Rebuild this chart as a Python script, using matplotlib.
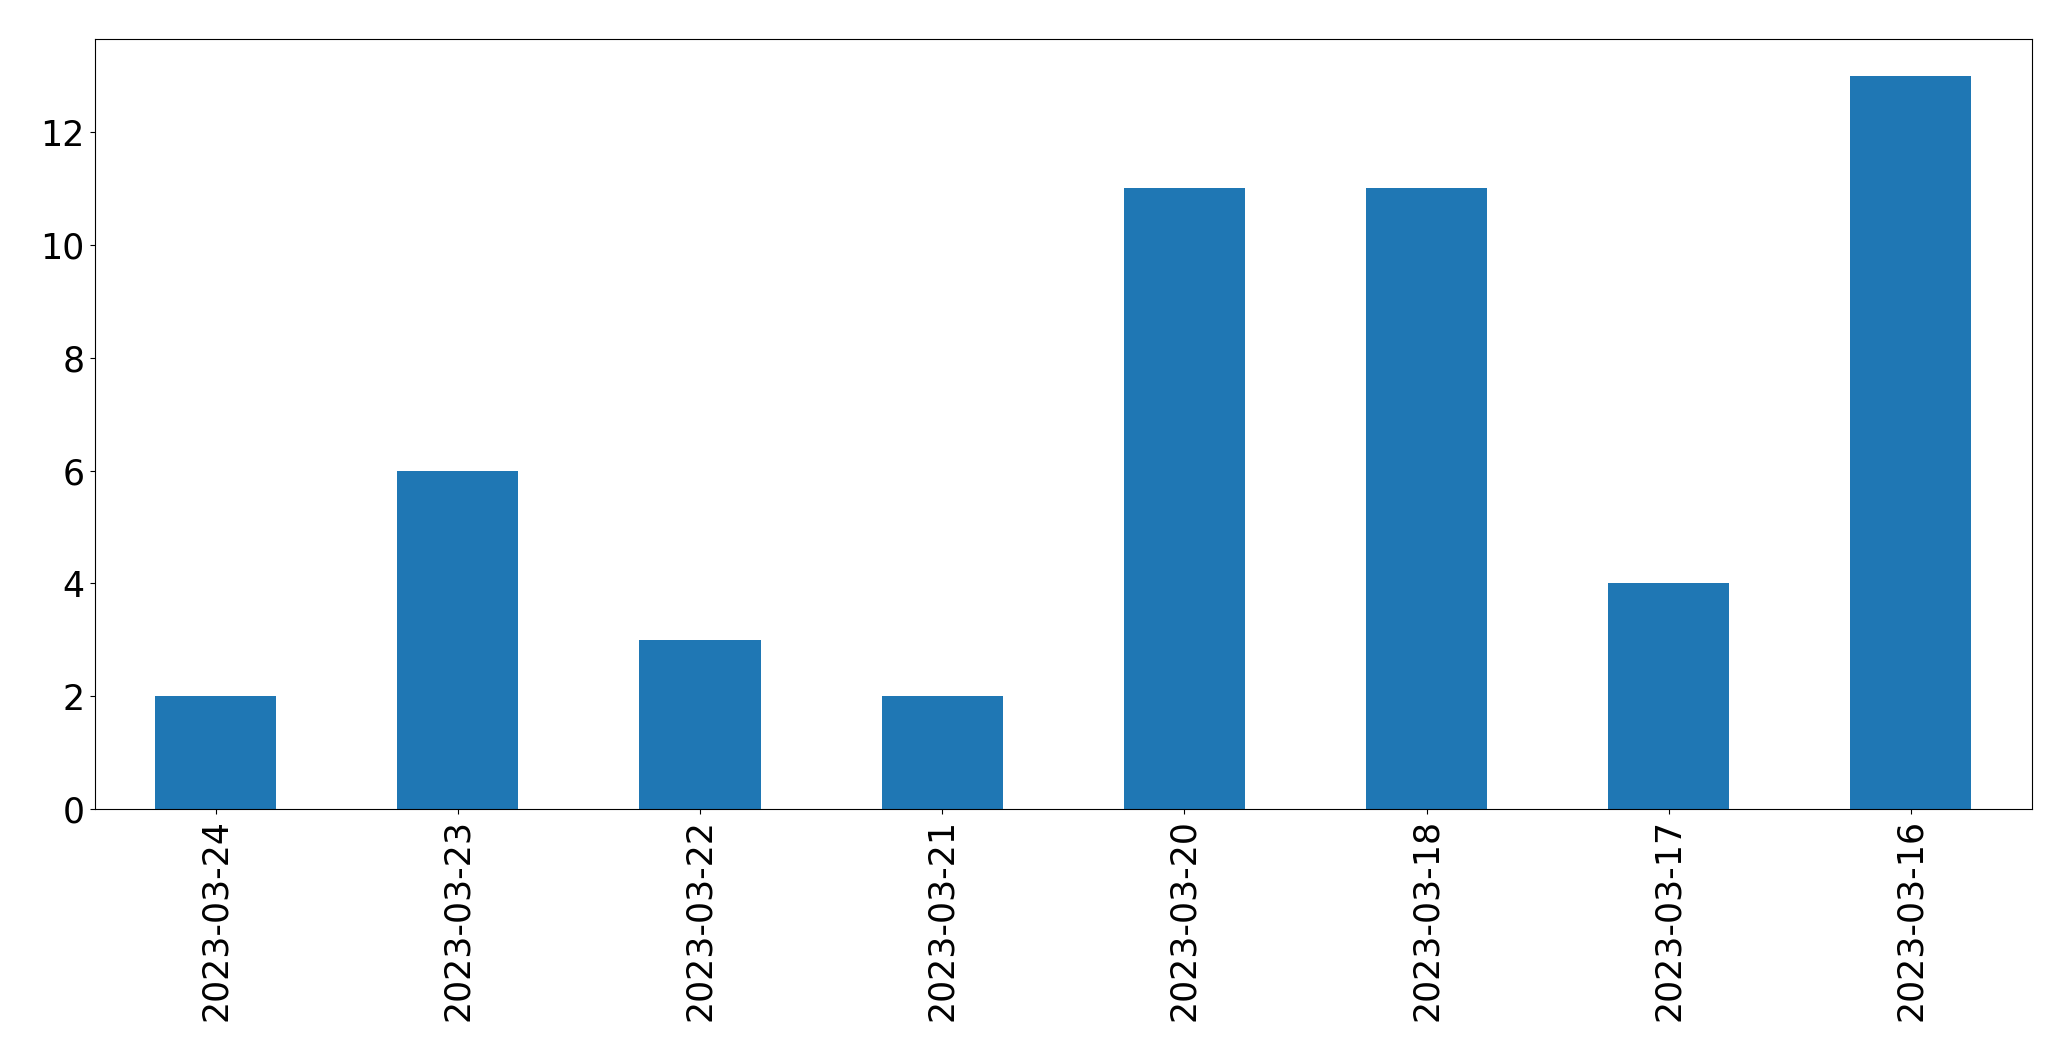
import matplotlib
matplotlib.use("Agg")
import matplotlib.pyplot as plt

dates = ["2023-03-24", "2023-03-23", "2023-03-22", "2023-03-21",
         "2023-03-20", "2023-03-18", "2023-03-17", "2023-03-16"]
counts = [2, 6, 3, 2, 11, 11, 4, 13]

fig = plt.figure(figsize=(20.71, 10.61), dpi=100)
ax = fig.add_axes([94.5 / 2071, 1 - 809 / 1061, (2032 - 94.5) / 2071, (809 - 39) / 1061])
x = list(range(len(dates)))
ax.bar(x, counts, width=0.5, color="#1f77b4")
ax.set_xlim(-0.5, len(dates) - 0.5)
ax.set_ylim(0, max(counts) * 1.05)
ax.set_xticks(x)
ax.set_xticklabels(dates, rotation=90)
ax.set_yticks([0, 2, 4, 6, 8, 10, 12])
ax.tick_params(labelsize=25)
fig.savefig("out.png", dpi=100)
